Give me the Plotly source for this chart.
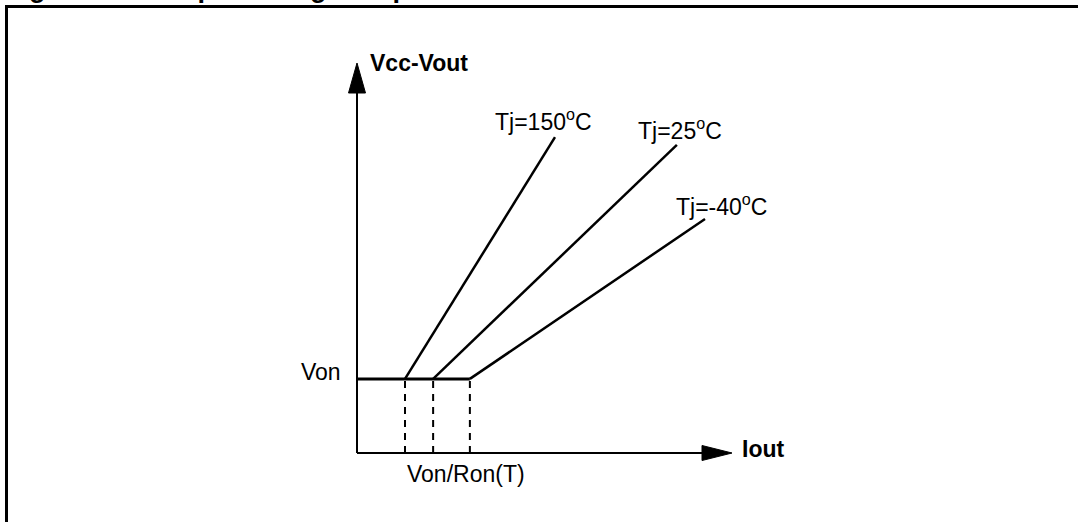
import plotly.graph_objects as go

# ---- data (arbitrary units) ----
temps = ["Tj=150<sup>o</sup>C", "Tj=25<sup>o</sup>C", "Tj=-40<sup>o</sup>C"]
von = 1.9                       # Von level
knee_i = [1.28, 2.03, 3.01]     # Von/Ron(T) for each temperature
end_i = [5.28, 8.53, 9.28]      # Iout at end of each line
end_v = [8.10, 7.90, 6.00]      # Vcc-Vout at end of each line
label_x = [4.98, 8.60, 9.72]
label_y = [8.55, 8.30, 6.37]
axis_max_x = 10.0
axis_max_y = 10.0
title_parts = ["<b>Figure 15.</b>", "<b>Output voltage drop limitation</b>"]

# ---- scale (pixels per unit) ----
PX_X = 37.5
PX_Y = 39.0
W, H = 1078, 522
ORIG_PX_X, ORIG_PX_Y = 357, 453

fig = go.Figure()
font = "Liberation Sans, Arial, Helvetica, sans-serif"

# axes lines
head_lx = 30 / PX_X
head_wx = 7.5 / PX_Y
head_ly = 30 / PX_Y
head_wy = 8.5 / PX_X
fig.add_trace(go.Scatter(x=[0, 0], y=[0, axis_max_y - head_ly + 0.05], mode="lines",
                         line=dict(color="black", width=2), hoverinfo="skip"))
fig.add_trace(go.Scatter(x=[0, axis_max_x - head_lx + 0.05], y=[0, 0], mode="lines",
                         line=dict(color="black", width=2), hoverinfo="skip"))
# arrow heads
fig.add_trace(go.Scatter(x=[-head_wy, 0, head_wy, -head_wy],
                         y=[axis_max_y - head_ly, axis_max_y, axis_max_y - head_ly, axis_max_y - head_ly],
                         mode="lines", fill="toself", fillcolor="black",
                         line=dict(color="black", width=1), hoverinfo="skip"))
fig.add_trace(go.Scatter(x=[axis_max_x - head_lx, axis_max_x, axis_max_x - head_lx, axis_max_x - head_lx],
                         y=[-head_wx, 0, head_wx, -head_wx],
                         mode="lines", fill="toself", fillcolor="black",
                         line=dict(color="black", width=1), hoverinfo="skip"))

# Von flat line
fig.add_trace(go.Scatter(x=[0, max(knee_i)], y=[von, von], mode="lines",
                         line=dict(color="black", width=3), hoverinfo="skip"))
# dashed verticals
for k in knee_i:
    fig.add_trace(go.Scatter(x=[k, k], y=[0, von], mode="lines",
                             line=dict(color="black", width=2, dash="7px,6px"), hoverinfo="skip"))
# temperature lines
for k, xe, ye in zip(knee_i, end_i, end_v):
    fig.add_trace(go.Scatter(x=[k, xe], y=[von, ye], mode="lines",
                             line=dict(color="black", width=2.5), hoverinfo="skip"))

ann = []
for t, lx, ly in zip(temps, label_x, label_y):
    ann.append(dict(x=lx, y=ly, text=t, showarrow=False, xanchor="center", yanchor="middle",
                    font=dict(family=font, size=23, color="black")))
ann.append(dict(x=0.28, y=10.0, text="<b>Vcc-Vout</b>", showarrow=False, xanchor="left",
                yanchor="middle", font=dict(family=font, size=23, color="black")))
ann.append(dict(x=10.2, y=0.1, text="<b>Iout</b>", showarrow=False, xanchor="left",
                yanchor="middle", font=dict(family=font, size=23, color="black")))
ann.append(dict(x=-0.38, y=von + 0.18, text="Von", showarrow=False, xanchor="right",
                yanchor="middle", font=dict(family=font, size=23, color="black")))
ann.append(dict(x=2.9, y=-0.55, text="Von/Ron(T)", showarrow=False,
                xanchor="center", yanchor="middle", font=dict(family=font, size=23, color="black")))
# cut-off figure title at the very top
for tx, tp in zip([3 / W, 149 / W], title_parts):
    ann.append(dict(x=tx, y=1 - 5 / H, xref="paper", yref="paper", text=tp, showarrow=False,
                    xanchor="left", yanchor="bottom", font=dict(family=font, size=27, color="black")))

fig.update_layout(
    width=W, height=H,
    margin=dict(l=0, r=0, t=0, b=0),
    paper_bgcolor="white", plot_bgcolor="white",
    showlegend=False,
    xaxis=dict(range=[-ORIG_PX_X / PX_X, (W - ORIG_PX_X) / PX_X], visible=False, fixedrange=True),
    yaxis=dict(range=[-(H - ORIG_PX_Y) / PX_Y, ORIG_PX_Y / PX_Y], visible=False, fixedrange=True),
    annotations=ann,
    shapes=[dict(type="rect", xref="paper", yref="paper", x0=6.5 / W, x1=1.02, y0=-0.03, y1=1 - 6.5 / H,
                 line=dict(color="black", width=3), fillcolor="rgba(0,0,0,0)", layer="above")],
)

fig.write_html("out.html", config={"displayModeBar": False},
               post_script="document.body.style.margin='0';document.body.style.overflow='hidden';")
